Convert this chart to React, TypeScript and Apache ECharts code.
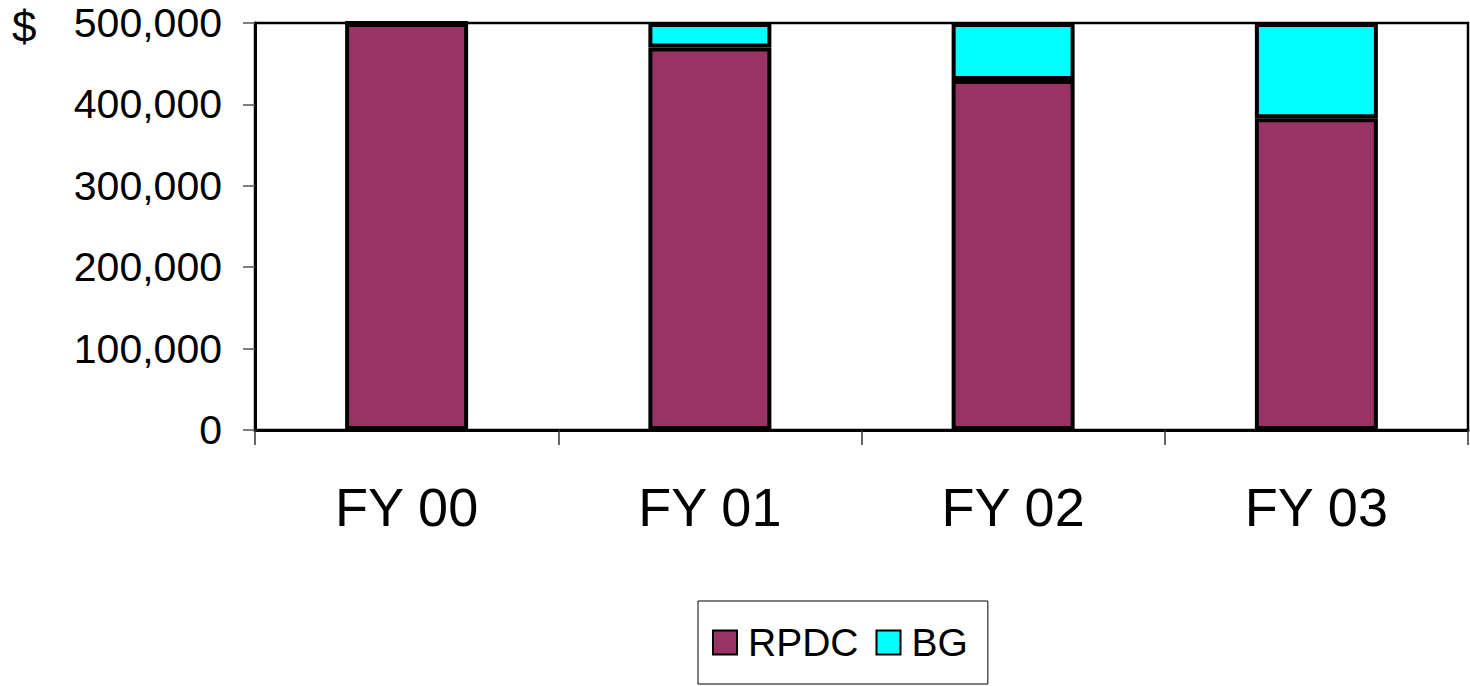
import React, { useEffect, useRef } from "react";
import * as echarts from "echarts";

const categories = ["FY 00", "FY 01", "FY 02", "FY 03"];
const rpdcValues = [500000, 470000, 430000, 383000];
const bgValues = [0, 30000, 70000, 117000];
const seriesNames = ["RPDC", "BG"];

const FONT = "'Liberation Sans', Arial, sans-serif";

export default function App() {
  const ref = useRef<HTMLDivElement>(null);
  useEffect(() => {
    if (!ref.current) return;
    const chart = echarts.init(ref.current, null, { renderer: "svg" });
    chart.setOption({
      animation: false,
      backgroundColor: "#ffffff",
      textStyle: { fontFamily: FONT, color: "#000" },
      graphic: [
        {
          type: "text",
          left: 12,
          top: 4,
          style: { text: "$", font: `44px ${FONT}`, fill: "#000" },
        },
      ],
      grid: {
        left: 255,
        right: 2,
        top: 23,
        bottom: 256,
        show: true,
        borderColor: "#000",
        borderWidth: 2.5,
        backgroundColor: "transparent",
      },
      legend: {
        data: seriesNames,
        left: 698,
        top: 601,
        width: 292,
        orient: "horizontal",
        borderColor: "#000",
        borderWidth: 1,
        padding: [22, 20, 22, 14],
        itemWidth: 24,
        itemHeight: 24,
        itemGap: 17,
        icon: "rect",
        textStyle: { fontFamily: FONT, fontSize: 39, color: "#000", padding: [0, 0, 0, 6] },
      },
      xAxis: {
        type: "category",
        data: categories,
        axisLine: { show: true, lineStyle: { color: "#000", width: 3 } },
        axisTick: { show: true, length: 15, lineStyle: { color: "#333", width: 1.5 } },
        axisLabel: { fontFamily: FONT, fontSize: 54, color: "#000", margin: 50 },
        splitLine: { show: false },
      },
      yAxis: {
        type: "value",
        min: 0,
        max: 500000,
        interval: 100000,
        axisLine: { show: true, lineStyle: { color: "#000", width: 3 } },
        axisTick: { show: true, length: 12, lineStyle: { color: "#555", width: 1.5 } },
        axisLabel: {
          fontFamily: FONT,
          fontSize: 41,
          color: "#000",
          margin: 33,
          formatter: (v: number) => v.toLocaleString("en-US"),
        },
        splitLine: { show: false },
      },
      series: [
        {
          name: seriesNames[0],
          type: "bar",
          stack: "total",
          data: rpdcValues,
          barWidth: 123,
          itemStyle: { color: "#993366", borderColor: "#000", borderWidth: 4 },
        },
        {
          name: seriesNames[1],
          type: "bar",
          stack: "total",
          data: bgValues,
          barWidth: 123,
          itemStyle: { color: "#00FFFF", borderColor: "#000", borderWidth: 4 },
        },
      ],
    });
    return () => chart.dispose();
  }, []);
  return (
    <div
      ref={ref}
      style={{ position: "fixed", left: 0, top: 0, width: 1470, height: 686 }}
    />
  );
}
